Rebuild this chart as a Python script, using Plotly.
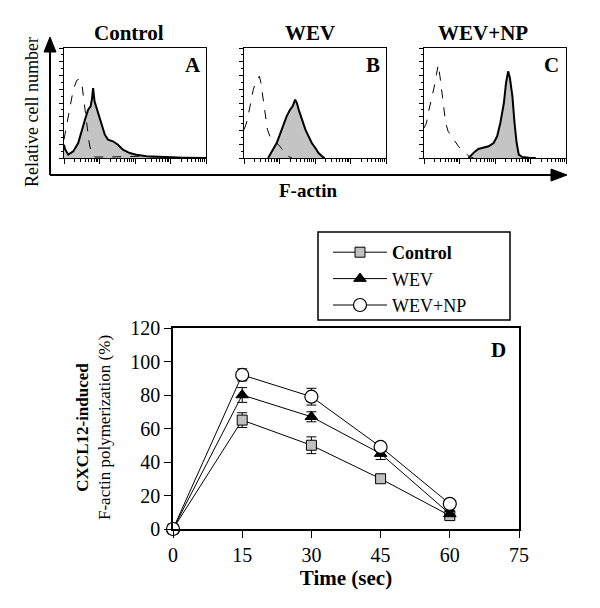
import numpy as np
import plotly.graph_objects as go

FONT = "Liberation Serif"
OFF = 8                     # page body margin of the browser
W, H = 600 - 2 * OFF, 608 - 2 * OFF

# ---------------- Line chart data (panel D) ----------------
time_s = [0, 15, 30, 45, 60]
control = [0, 65, 50, 30, 8]
control_err = [0, 4.4, 5, 2, 1.5]
wev = [0, 80, 67, 45, 9]
wev_err = [0, 4.4, 3, 3.5, 1.5]
wev_np = [0, 92, 79, 49, 15]
wev_np_err = [0, 3.6, 5, 2.8, 1.5]

# ---------------- Histogram data (panels A-C) ----------------
# x: F-actin fluorescence (log decades 0-4), y: relative cell number (0-100)
a_fill_x = [0.0, 0.03, 0.12, 0.26, 0.40, 0.50, 0.59, 0.68, 0.75, 0.79, 0.82, 0.86, 0.92, 0.99,
            1.06, 1.15, 1.24, 1.38, 1.52, 1.66, 1.85, 2.04, 2.32, 2.69, 3.35, 4.0]
a_fill_y = [12, 8, 3, 6, 13.6, 25.8, 34.8, 44, 47, 54.5, 63.6, 51.5, 45.5, 37.9,
            30.3, 21.2, 16.7, 15.2, 12.1, 7.6, 4.5, 3, 1.5, 0.9, 0.3, 0]
a_dash_x = [0.0, 0.07, 0.17, 0.26, 0.36, 0.43, 0.50, 0.56, 0.64, 0.71, 0.78, 0.87, 1.29, 2.04, 2.69, 4.0]
a_dash_y = [16.7, 28.8, 44, 62, 70.6, 71.8, 68.2, 53, 31.8, 13.6, 3, 0.9, 0.9, 1.5, 0.9, 0]

b_fill_x = [0.68, 0.73, 0.82, 0.92, 1.01, 1.11, 1.20, 1.30, 1.37, 1.44, 1.49, 1.54, 1.63, 1.73,
            1.82, 1.91, 2.01, 2.10, 2.20, 2.27]
b_fill_y = [0, 3, 7.6, 13.6, 21.2, 30.3, 37.9, 44, 47, 53, 50, 44, 34.8, 25.8,
            19.7, 13.6, 9.1, 4.5, 1.5, 0]
b_dash_x = [0.0, 0.07, 0.16, 0.26, 0.32, 0.38, 0.43, 0.47, 0.52, 0.59, 0.66, 0.73, 0.82, 0.92,
            1.01, 1.16, 1.25, 1.35]
b_dash_y = [25.8, 31.8, 45.5, 62, 68, 71.8, 74.2, 69.7, 59, 41, 25.8, 19.7, 16.7, 13.6,
            10.6, 4.5, 1.5, 0]

c_fill_x = [1.25, 1.34, 1.44, 1.53, 1.68, 1.82, 1.96, 2.06, 2.15, 2.25, 2.31, 2.37, 2.42, 2.49,
            2.55, 2.61, 2.67, 2.77, 2.96, 3.15]
c_fill_y = [0, 3, 6, 8.2, 9.1, 10.6, 13.6, 19.7, 31.8, 50, 68.2, 78.8, 72.7, 56,
            31.8, 13.6, 3, 0.9, 0.3, 0]
c_dash_x = [0.0, 0.07, 0.13, 0.21, 0.28, 0.35, 0.40, 0.45, 0.49, 0.54, 0.61, 0.68, 0.78, 0.87,
            0.97, 1.11, 1.25, 1.39]
c_dash_y = [27.3, 31.8, 42.4, 53, 63.6, 75.8, 84.8, 74.2, 62, 47, 31.8, 24.2, 19.7, 15.2,
            10.6, 6, 2.1, 0]

panel_titles = ["Control", "WEV", "WEV+NP"]
panel_letters = ["A", "B", "C"]


def px(x):
    return (x - OFF) / W


def py(y):
    return 1 - (y - OFF) / H


fig = go.Figure()

hist_sets = [
    (a_fill_x, a_fill_y, a_dash_x, a_dash_y),
    (b_fill_x, b_fill_y, b_dash_x, b_dash_y),
    (c_fill_x, c_fill_y, c_dash_x, c_dash_y),
]
panel_left = [64, 244, 424]
panel_width = 142
hist_top, hist_bottom = 48, 158

log_minor = [d + np.log10(k) for d in range(4) for k in range(2, 10)]

for i, (fx, fy, dx, dy) in enumerate(hist_sets):
    n = i + 1
    xa = "x" if n == 1 else f"x{n}"
    ya = "y" if n == 1 else f"y{n}"
    fig.add_trace(go.Scatter(x=fx, y=fy, xaxis=xa, yaxis=ya, mode="lines",
                             fill="tozeroy", fillcolor="#c4c4c4",
                             line=dict(color="black", width=2), showlegend=False,
                             hoverinfo="skip"))
    fig.add_trace(go.Scatter(x=dx, y=dy, xaxis=xa, yaxis=ya, mode="lines",
                             line=dict(color="black", width=1, dash="dash"),
                             showlegend=False, hoverinfo="skip"))
    xkey = "xaxis" if n == 1 else f"xaxis{n}"
    ykey = "yaxis" if n == 1 else f"yaxis{n}"
    l = panel_left[i]
    fig.update_layout(**{
        xkey: dict(domain=[px(l), px(l + panel_width)], anchor=ya, range=[0, 4],
                   showline=True, linecolor="black", linewidth=1, mirror=True,
                   ticks="outside", tickvals=[0, 1, 2, 3, 4], ticklen=5, tickcolor="black",
                   showticklabels=False, showgrid=False, zeroline=False, fixedrange=True,
                   automargin=False,
                   minor=dict(tickvals=log_minor, ticks="outside", ticklen=3,
                              tickcolor="black", showgrid=False)),
        ykey: dict(domain=[py(hist_bottom), py(hist_top)], anchor=xa, range=[0, 100],
                   showline=True, linecolor="black", linewidth=1, mirror=True,
                   ticks="outside", tickvals=list(np.arange(0, 101, 12.5)), ticklen=4,
                   tickcolor="black", showticklabels=False, showgrid=False, zeroline=False,
                   fixedrange=True, automargin=False,
                   minor=dict(tickvals=list(np.arange(6.25, 100, 12.5)), ticks="outside",
                              ticklen=2, tickcolor="black", showgrid=False)),
    })

# ---------------- Line chart ----------------
series = [
    ("<b>Control</b>", control, control_err,
     dict(symbol="square", size=10, color="#c0c0c0", line=dict(color="black", width=1))),
    ("WEV", wev, wev_err,
     dict(symbol="triangle-up", size=11, color="black", line=dict(color="black", width=1))),
    ("WEV+NP", wev_np, wev_np_err,
     dict(symbol="circle", size=13, color="white", line=dict(color="black", width=1.2))),
]
for name, vals, errs, mk in series:
    fig.add_trace(go.Scatter(x=time_s, y=vals, xaxis="x4", yaxis="y4", name=name,
                             mode="lines+markers", line=dict(color="black", width=1),
                             marker=mk, cliponaxis=False,
                             error_y=dict(type="data", array=errs, color="black",
                                          thickness=1, width=5)))

fig.update_layout(
    xaxis4=dict(domain=[px(173), px(519)], anchor="y4", range=[0, 75],
                tickvals=[0, 15, 30, 45, 60, 75], ticks="outside", ticklen=7,
                tickcolor="black", showline=True, linecolor="black", linewidth=1.5,
                mirror=True, showgrid=False, zeroline=False, automargin=False,
                tickfont=dict(family=FONT, size=20, color="black"),
                title=dict(text="<b>Time (sec)</b>", standoff=4,
                           font=dict(family=FONT, size=21, color="black"))),
    yaxis4=dict(domain=[py(529), py(328)], anchor="x4", range=[0, 120], dtick=20,
                ticks="outside", ticklen=7, tickcolor="black", showline=True,
                linecolor="black", linewidth=1.5, mirror=True, showgrid=False,
                zeroline=False, automargin=False,
                tickfont=dict(family=FONT, size=20, color="black")),
)


def ann(text, x, y, size, angle=0):
    return dict(text=text, x=px(x), y=py(y), xref="paper", yref="paper",
                xanchor="center", yanchor="middle", textangle=angle, showarrow=False,
                font=dict(family=FONT, size=size, color="black"))


annotations = []
title_x = [129, 310, 483]
letter_x = [193, 373, 551]
for t, tx in zip(panel_titles, title_x):
    annotations.append(ann(f"<b>{t}</b>", tx, 33, 21))
for lt, lx in zip(panel_letters, letter_x):
    annotations.append(ann(f"<b>{lt}</b>", lx, 65, 21))
annotations += [
    ann("Relative cell number", 32, 112, 18, -90),
    ann("<b>F-actin</b>", 308, 190, 19),
    ann("<b>D</b>", 498, 350, 21),
    ann("<b>CXCL12-induced</b><br>F-actin polymerization (%)", 93, 428, 17, -90),
]

shapes = [
    # vertical arrow
    dict(type="line", xref="paper", yref="paper", x0=px(50), y0=py(175), x1=px(50), y1=py(50),
         line=dict(color="black", width=2)),
    dict(type="path", xref="paper", yref="paper",
         path=f"M {px(44)} {py(52)} L {px(50)} {py(37)} L {px(56)} {py(52)} Z",
         fillcolor="black", line=dict(color="black", width=1)),
    # horizontal arrow
    dict(type="line", xref="paper", yref="paper", x0=px(50), y0=py(175), x1=px(553), y1=py(175),
         line=dict(color="black", width=2)),
    dict(type="path", xref="paper", yref="paper",
         path=f"M {px(551)} {py(169)} L {px(567)} {py(175)} L {px(551)} {py(181)} Z",
         fillcolor="black", line=dict(color="black", width=1)),
    # legend frame
    dict(type="rect", xref="paper", yref="paper", x0=px(318), y0=py(320), x1=px(510), y1=py(232),
         line=dict(color="black", width=1.5), fillcolor="rgba(0,0,0,0)"),
]

fig.update_layout(
    width=W, height=H,
    margin=dict(l=0, r=0, t=0, b=0, autoexpand=False),
    paper_bgcolor="white", plot_bgcolor="white",
    font=dict(family=FONT, color="black"),
    annotations=annotations,
    shapes=shapes,
    legend=dict(x=px(328), y=py(234), xanchor="left", yanchor="top",
                borderwidth=0, bgcolor="rgba(0,0,0,0)",
                font=dict(family=FONT, size=18, color="black"),
                itemwidth=54, tracegroupgap=0),
    showlegend=True,
)

fig.write_html("out.html")
